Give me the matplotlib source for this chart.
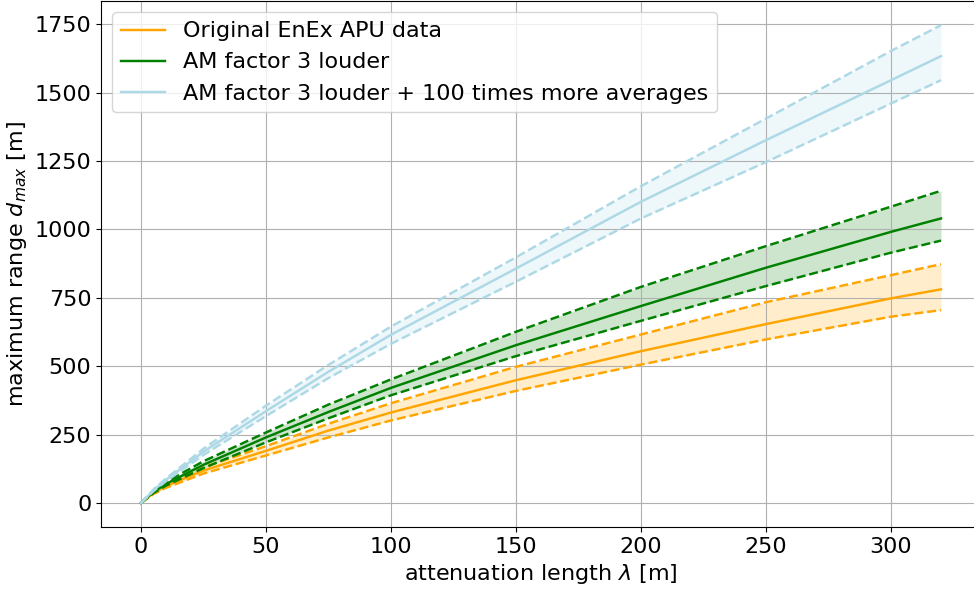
import numpy as np
import matplotlib
matplotlib.use("Agg")
import matplotlib.pyplot as plt

# attenuation length [m]
lam = [0, 5, 10, 25, 50, 75, 100, 150, 200, 250, 300, 320]

# original EnEx APU data (lower / centre / upper) [m]
orig_lo = [0, 33, 56, 108, 174, 240, 302, 410, 506, 598, 681, 705]
orig_mid = [0, 37, 62, 119, 191, 265, 331, 449, 555, 654, 748, 781]
orig_hi = [0, 41, 69, 131, 208, 290, 365, 498, 616, 734, 833, 873]

# AM factor 3 louder
am_lo = [0, 37, 64, 128, 222, 310, 394, 537, 666, 793, 915, 959]
am_mid = [0, 41, 70, 140, 240, 333, 421, 577, 720, 860, 991, 1040]
am_hi = [0, 45, 77, 153, 258, 360, 452, 626, 790, 939, 1083, 1141]

# AM factor 3 louder + 100x averages
avg_lo = [0, 44, 80, 176, 318, 457, 582, 809, 1040, 1246, 1460, 1545]
avg_mid = [0, 47, 85, 188, 336, 480, 615, 857, 1101, 1326, 1545, 1633]
avg_hi = [0, 50, 90, 199, 356, 505, 645, 898, 1158, 1405, 1652, 1746]

labels = ["Original EnEx APU data", "AM factor 3 louder",
          "AM factor 3 louder + 100 times more averages"]
colors = ["orange", "green", "lightblue"]

plt.rcParams['font.size'] = 16

fig = plt.figure(figsize=(9.74, 5.91), dpi=100)
ax = fig.add_axes([101/974, 0.1083, 880/974, 0.8895])

sets = [(orig_lo, orig_mid, orig_hi), (am_lo, am_mid, am_hi), (avg_lo, avg_mid, avg_hi)]
for (lo, mid, hi), c, lab in zip(sets, colors, labels):
    ax.plot(lam, mid, color=c, lw=1.75, label=lab)
    ax.plot(lam, lo, color=c, lw=1.75, ls='--')
    ax.plot(lam, hi, color=c, lw=1.75, ls='--')
    ax.fill_between(lam, lo, hi, color=c, alpha=0.2, lw=0)

ax.set_xlabel(r"attenuation length $\lambda$ [m]")
ax.set_ylabel(r"maximum range $d_{max}$ [m]")
ax.set_yticks([0, 250, 500, 750, 1000, 1250, 1500, 1750])
ax.grid(True)
ax.legend(loc='upper left')

fig.savefig("out.png", dpi=100)
